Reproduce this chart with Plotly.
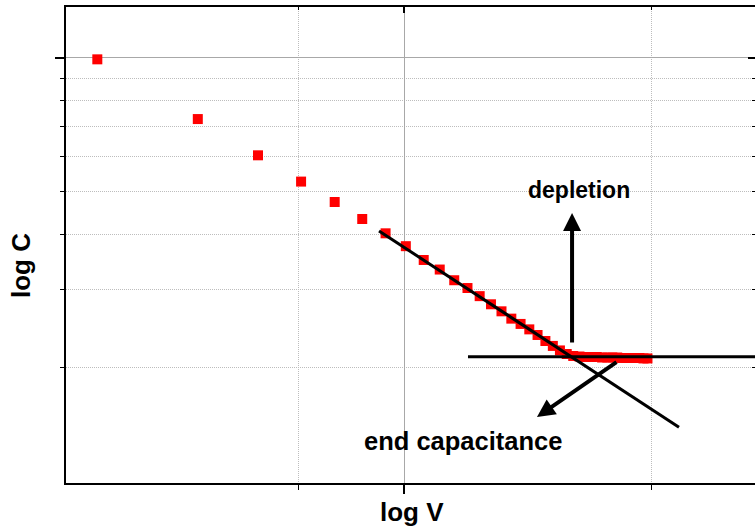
import math
import plotly.graph_objects as go

# ---- data ----
voltage = [0.135, 0.26, 0.385, 0.51, 0.635, 0.76, 0.885, 1.01, 1.135, 1.26,
           1.385, 1.51, 1.635, 1.76, 1.885, 2.01, 2.135, 2.26, 2.385, 2.51,
           2.635, 2.76, 2.885, 3.01, 3.135, 3.26, 3.385, 3.51, 3.635, 3.76,
           3.885, 4.01, 4.135, 4.26, 4.385, 4.51, 4.635, 4.76, 4.885]
capacitance = [0.993, 0.728, 0.603, 0.526, 0.473, 0.433, 0.402, 0.376, 0.350, 0.333,
               0.315, 0.3025, 0.290, 0.278, 0.268, 0.258, 0.251, 0.244, 0.237, 0.2297,
               0.2239, 0.2187, 0.2147, 0.2125, 0.2119, 0.2114, 0.2114, 0.2114, 0.2108, 0.2108,
               0.2108, 0.2108, 0.2103, 0.2103, 0.2103, 0.2103, 0.2103, 0.2098, 0.2098]

fit_v = [0.848, 6.0]
fit_c = [0.407, 0.1467]
end_v = [1.515, 10.0]
end_c = [0.2116, 0.2116]

depl_tail = [2.987, 0.2262]
depl_tip = [2.987, 0.4468]
endcap_tail = [4.03, 0.207]
endcap_tip = [2.376, 0.1547]

x_major = [1]
x_minor = [0.5, 5]
y_major = [1]
y_minor = [0.2, 0.3, 0.4, 0.5, 0.6, 0.7, 0.8, 0.9]

x_range = [-0.9584, 0.9935]
y_range = [-0.9594, 0.1151]

FONT = "Liberation Sans, Arial, Helvetica, sans-serif"
L = math.log10

fig = go.Figure()
fig.add_trace(go.Scatter(x=voltage, y=capacitance, mode="markers",
                         marker=dict(symbol="square", size=10, color="#ff0000"),
                         showlegend=False, hoverinfo="skip"))
fig.add_trace(go.Scatter(x=fit_v, y=fit_c, mode="lines",
                         line=dict(color="black", width=3), showlegend=False, hoverinfo="skip"))
fig.add_trace(go.Scatter(x=end_v, y=end_c, mode="lines",
                         line=dict(color="black", width=3), showlegend=False, hoverinfo="skip"))
# invisible trace so that the mirrored (top/right) axes are drawn
fig.add_trace(go.Scatter(x=voltage, y=capacitance, mode="markers", xaxis="x2", yaxis="y2",
                         marker=dict(size=1, opacity=0), showlegend=False, hoverinfo="skip"))

fig.add_annotation(x=L(depl_tip[0]), y=L(depl_tip[1]), ax=L(depl_tail[0]), ay=L(depl_tail[1]),
                   xref="x", yref="y", axref="x", ayref="y", text="", showarrow=True,
                   arrowhead=2, arrowwidth=4, arrowsize=0.9, arrowcolor="black", standoff=0)
fig.add_annotation(x=L(endcap_tip[0]), y=L(endcap_tip[1]), ax=L(endcap_tail[0]), ay=L(endcap_tail[1]),
                   xref="x", yref="y", axref="x", ayref="y", text="", showarrow=True,
                   arrowhead=2, arrowwidth=4, arrowsize=0.9, arrowcolor="black", standoff=0)

fig.add_annotation(x=0.4949, y=-0.298, xref="x", yref="y", text="<b>depletion</b>",
                   showarrow=False, font=dict(family=FONT, size=23, color="black"))
fig.add_annotation(x=0.1663, y=-0.8657, xref="x", yref="y", text="<b>end capacitance</b>",
                   showarrow=False, font=dict(family=FONT, size=25.5, color="black"))
fig.add_annotation(x=0.5015, y=-0.0966, xref="paper", yref="paper", text="<b>log V</b>",
                   showarrow=False, font=dict(family=FONT, size=26, color="black"))
fig.add_annotation(x=-0.090, y=0.458, xref="paper", yref="paper", text="<b>log C</b>",
                   textangle=-90, showarrow=False, font=dict(family=FONT, size=26, color="black"))

common = dict(type="log", showticklabels=False, tickmode="array", tickcolor="black",
              tickwidth=1.5, zeroline=False)
DOT = "1px,1px"

fig.update_layout(
    width=755, height=531,
    margin=dict(l=66, r=0, t=7, b=48),
    paper_bgcolor="white", plot_bgcolor="white",
    font=dict(family=FONT),
    xaxis=dict(**common, range=x_range, tickvals=x_major, ticks="outside", ticklen=9,
               showgrid=True, gridcolor="#a8a8a8", gridwidth=1,
               showline=True, linecolor="black", linewidth=2,
               minor=dict(tickmode="array", tickvals=x_minor, ticks="outside", ticklen=5,
                          tickcolor="black", tickwidth=1.2, showgrid=True,
                          gridcolor="#bdbdbd", griddash=DOT, gridwidth=1)),
    yaxis=dict(**common, range=y_range, tickvals=y_major, ticks="outside", ticklen=9,
               showgrid=True, gridcolor="#a8a8a8", gridwidth=1,
               showline=True, linecolor="black", linewidth=2,
               minor=dict(tickmode="array", tickvals=y_minor, ticks="outside", ticklen=4,
                          tickcolor="black", tickwidth=1.2, showgrid=True,
                          gridcolor="#bdbdbd", griddash=DOT, gridwidth=1)),
    xaxis2=dict(**common, range=x_range, tickvals=x_major, ticks="inside", ticklen=6,
                overlaying="x", side="top", anchor="y2", showgrid=False,
                showline=True, linecolor="black", linewidth=2,
                minor=dict(tickmode="array", tickvals=x_minor, ticks="inside", ticklen=3,
                           tickcolor="black", tickwidth=1.2, showgrid=False)),
    yaxis2=dict(**common, range=y_range, tickvals=y_major, ticks="inside", ticklen=7,
                overlaying="y", side="right", anchor="x2", showgrid=False, showline=False,
                minor=dict(tickmode="array", tickvals=y_minor, ticks="inside", ticklen=3,
                           tickcolor="black", tickwidth=1.2, showgrid=False)),
)

fig.write_html("out.html", config={"displayModeBar": False},
               post_script="document.body.style.margin='0';document.body.style.padding='0';"
                           "document.body.style.overflow='hidden';")
